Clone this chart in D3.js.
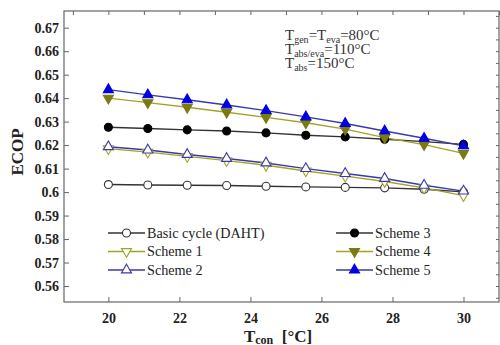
<!DOCTYPE html>
<html>
<head>
<meta charset="utf-8">
<script src="https://cdn.jsdelivr.net/npm/d3@7"></script>
<style>
  body { margin: 0; background: #fff; }
  svg text { font-family: 'Liberation Serif', 'DejaVu Serif', 'Times New Roman', serif; }
</style>
</head>
<body>
<svg id="chart" width="500" height="345"></svg>
<script>
const tcon = [20, 21.11, 22.22, 23.33, 24.44, 25.56, 26.67, 27.78, 28.89, 30]
const basic = [0.6032, 0.6030, 0.6029, 0.6028, 0.6025, 0.6022, 0.6020, 0.6018, 0.6012, 0.6001]
const scheme1 = [0.6185, 0.6170, 0.6152, 0.6134, 0.6114, 0.6090, 0.6068, 0.6045, 0.6018, 0.5985]
const scheme2 = [0.6193, 0.6179, 0.6160, 0.6143, 0.6124, 0.6100, 0.6079, 0.6058, 0.6029, 0.6004]
const scheme3 = [0.6276, 0.6271, 0.6265, 0.6260, 0.6252, 0.6242, 0.6235, 0.6225, 0.6215, 0.6203]
const scheme4 = [0.6400, 0.6381, 0.6361, 0.6340, 0.6318, 0.6295, 0.6268, 0.6232, 0.6202, 0.6165]
const scheme5 = [0.6436, 0.6414, 0.6393, 0.6371, 0.6347, 0.6320, 0.6292, 0.6260, 0.6229, 0.6197]
const yTicks = [0.56, 0.57, 0.58, 0.59, 0.6, 0.61, 0.62, 0.63, 0.64, 0.65, 0.66, 0.67]
const xTicks = [20, 22, 24, 26, 28, 30]

const series = [
  { name: 'Basic cycle (DAHT)', values: basic, line: '#333', stroke: '#333', fill: '#fff', shape: 'circle', col: 0, row: 0 },
  { name: 'Scheme 1', values: scheme1, line: '#a3a32a', stroke: '#a3a32a', fill: '#fff', shape: 'down', col: 0, row: 1 },
  { name: 'Scheme 2', values: scheme2, line: '#3a3aa8', stroke: '#3a3aa8', fill: '#fff', shape: 'up', col: 0, row: 2 },
  { name: 'Scheme 3', values: scheme3, line: '#333', stroke: '#000', fill: '#000', shape: 'circle', col: 1, row: 0 },
  { name: 'Scheme 4', values: scheme4, line: '#a3a32a', stroke: '#7a7a10', fill: '#7a7a10', shape: 'down', col: 1, row: 1 },
  { name: 'Scheme 5', values: scheme5, line: '#3a3aa8', stroke: '#0000e0', fill: '#0000e0', shape: 'up', col: 1, row: 2 }
]

const serif = "'Liberation Serif', 'DejaVu Serif', serif"
const svg = d3.select('#chart')
const margin = { top: 11, left: 64, bottom: 43, right: 1 }
const width = +svg.attr('width') - margin.left - margin.right
const height = +svg.attr('height') - margin.top - margin.bottom

const x = d3.scaleLinear().domain([18.75, 31.0]).range([0, width])
const y = d3.scaleLinear().domain([0.5532, 0.6771]).range([height, 0])

const g = svg.append('g').attr('transform', `translate(${margin.left},${margin.top})`)

// frame
g.append('rect').attr('width', width).attr('height', height)
  .attr('fill', 'none').attr('stroke', '#666').attr('stroke-width', 1.2)

const xMinor = d3.range(19, 31.01, 1)
const yMinor = d3.range(0.555, 0.6751, 0.005)

// bottom axis (ticks point in)
const bottomAxis = g.append('g').attr('transform', `translate(0,${height})`)
bottomAxis.call(d3.axisBottom(x).tickValues(xMinor).tickSize(-3).tickFormat(''))
bottomAxis.call(d3.axisBottom(x).tickValues(xTicks).tickSize(-5).tickPadding(11).tickFormat(d3.format('d')))
bottomAxis.select('.domain').remove()

const topAxis = g.append('g')
topAxis.call(d3.axisTop(x).tickValues(xMinor).tickSize(-4).tickFormat(''))
topAxis.select('.domain').remove()

const leftAxis = g.append('g')
leftAxis.call(d3.axisLeft(y).tickValues(yMinor).tickSize(-3).tickFormat(''))
leftAxis.call(d3.axisLeft(y).tickValues(yTicks).tickSize(-5).tickPadding(5).tickFormat(d => String(+d.toFixed(2))))
leftAxis.select('.domain').remove()

const rightAxis = g.append('g').attr('transform', `translate(${width},0)`)
rightAxis.call(d3.axisRight(y).tickValues(yMinor).tickSize(-3).tickFormat(''))
rightAxis.select('.domain').remove()

svg.selectAll('g').attr('font-family', serif)
svg.selectAll('.tick line').attr('stroke', '#666')
svg.selectAll('.tick text').attr('font-family', serif).attr('font-weight', 'bold')
  .attr('font-size', 14).attr('fill', '#222')

// lines and markers
const line = d3.line().x((d, i) => x(tcon[i])).y(d => y(d))
const tri = d3.symbol().type(d3.symbolTriangle).size(44)
const circ = d3.symbol().type(d3.symbolCircle).size(50)

function marker (sel, s) {
  const path = sel.append('path')
    .attr('d', s.shape === 'circle' ? circ() : tri())
    .attr('fill', s.fill).attr('stroke', s.stroke).attr('stroke-width', 1.1)
  if (s.shape === 'down') path.attr('transform', 'rotate(180)')
  return path
}

series.forEach(s => {
  g.append('path').datum(s.values).attr('d', line)
    .attr('fill', 'none').attr('stroke', s.line).attr('stroke-width', 1.4)
})
series.forEach(s => {
  s.values.forEach((v, i) => {
    const m = g.append('g').attr('transform', `translate(${x(tcon[i])},${y(v)})`)
    marker(m, s)
  })
})

// legend
const legX = [108, 336]
const legY = [233, 251.5, 270]
series.forEach(s => {
  const lg = svg.append('g').attr('transform', `translate(${legX[s.col]},${legY[s.row]})`)
  lg.append('line').attr('x1', 0).attr('x2', 37).attr('stroke', s.line).attr('stroke-width', 1.4)
  const m = lg.append('g').attr('transform', 'translate(18.5,0)')
  marker(m, s)
  lg.append('text').attr('x', 39).attr('dy', '0.35em').attr('font-family', serif)
    .attr('font-size', 14.2).attr('fill', '#222').text(s.name)
})

// annotation
const notes = [
  [['T', ''], ['gen', 'sub'], ['=T', ''], ['eva', 'sub'], ['=80°C', '']],
  [['T', ''], ['abs/eva', 'sub'], ['=110°C', '']],
  [['T', ''], ['abs', 'sub'], ['=150°C', '']]
]
notes.forEach((parts, r) => {
  const t = svg.append('text').attr('x', 285).attr('y', 39.5 + r * 14.3)
    .attr('font-family', serif).attr('font-size', 15).attr('fill', '#333')
  let shifted = false
  parts.forEach(([txt, kind]) => {
    if (kind === 'sub') {
      t.append('tspan').attr('dy', 3).attr('font-size', 10).text(txt)
      shifted = true
    } else {
      t.append('tspan').attr('dy', shifted ? -3 : 0).text(txt)
      shifted = false
    }
  })
})

// axis titles
svg.append('text').attr('transform', `translate(23,${margin.top + 141}) rotate(-90)`)
  .attr('text-anchor', 'middle').attr('font-family', serif).attr('font-weight', 'bold')
  .attr('font-size', 17).attr('fill', '#222')
  .text('ECOP')

const xt = svg.append('text').attr('x', 278).attr('y', 341.5).attr('text-anchor', 'middle')
  .attr('font-family', serif).attr('font-weight', 'bold').attr('font-size', 17).attr('fill', '#222')
xt.append('tspan').text('T')
xt.append('tspan').attr('dy', 2).attr('font-size', 12).text('con')
xt.append('tspan').attr('dy', -2).attr('xml:space', 'preserve').text('  [°C]')
</script>
</body>
</html>
